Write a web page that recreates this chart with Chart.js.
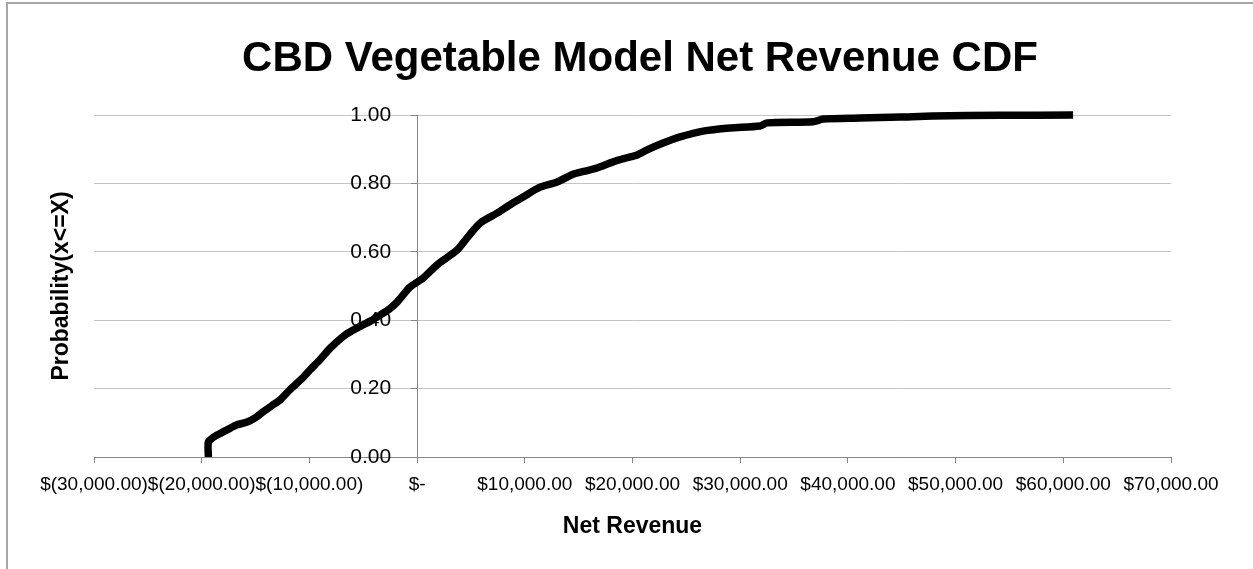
<!DOCTYPE html>
<html>
<head>
<meta charset="utf-8">
<title>CBD Vegetable Model Net Revenue CDF</title>
<script src="https://cdn.jsdelivr.net/npm/chart.js@4.4.1/dist/chart.umd.min.js"></script>
<style>
  html, body { margin: 0; padding: 0; background: #fff; overflow: hidden; }
  #wrap { position: relative; width: 1253px; height: 569px; overflow: hidden; }
  /* chart-area frame: only its top and left edges fall inside the page */
  #frame {
    position: absolute; left: 6px; top: 2px; width: 1300px; height: 620px;
    border-left: 2px solid #a6a6a6; border-top: 2px solid #a6a6a6;
    pointer-events: none;
  }
</style>
</head>
<body>
<div id="wrap">
  <canvas id="cdf" width="1253" height="569"></canvas>
  <div id="frame"></div>
</div>
<script>
// simulated net revenue ($) and cumulative probability
const netRevenue = [
  -19380, -19380, -18900, -18580, -17600, -16720, -15790, -15000, -14300, -13500,
  -12720, -11800, -10600, -9935, -9000, -8078, -6685, -5292, -4300, -3435,
  -2600, -1857, -650, 557, 1860, 3714, 4700, 5850, 7430, 8600,
  9840, 11420, 13000, 14480, 15600, 16710, 18200, 19500, 20430, 21360,
  22840, 24420, 26550, 29060, 31850, 32500, 36770, 37700, 41130, 44850,
  47910, 54130, 60910
];
const probability = [
  0.000, 0.044, 0.058, 0.064, 0.080, 0.094, 0.102, 0.115, 0.132, 0.150,
  0.167, 0.197, 0.232, 0.255, 0.285, 0.318, 0.357, 0.382, 0.398, 0.415,
  0.432, 0.453, 0.497, 0.523, 0.562, 0.605, 0.643, 0.684, 0.713, 0.737,
  0.760, 0.789, 0.804, 0.827, 0.836, 0.845, 0.863, 0.875, 0.883, 0.898,
  0.918, 0.936, 0.953, 0.962, 0.968, 0.977, 0.980, 0.988, 0.991, 0.994,
  0.997, 0.999, 1.000
];

const xTickLabels = [
  "$(30,000.00)", "$(20,000.00)", "$(10,000.00)", "$-", "$10,000.00", "$20,000.00",
  "$30,000.00", "$40,000.00", "$50,000.00", "$60,000.00", "$70,000.00"
];
const yTickLabels = ["0.00", "0.20", "0.40", "0.60", "0.80", "1.00"];

const FONT = "'Liberation Sans', Arial, sans-serif";
const AXIS_GREY = "#868686";
const GRID_GREY = "#c4c4c4";

new Chart(document.getElementById("cdf"), {
  type: "line",
  data: {
    datasets: [
      {
        data: netRevenue.map((x, i) => ({ x, y: probability[i] })),
        borderColor: "#000",
        borderWidth: 7.5,
        borderJoinStyle: "round",
        pointRadius: 0,
        tension: 0.25,
        clip: false,
        xAxisID: "x",
        yAxisID: "y",
      },
    ],
  },
  options: {
    responsive: false,
    animation: false,
    events: [],
    layout: { padding: { left: 27, right: 0, top: 0, bottom: 24.2 } },
    plugins: {
      legend: { display: false },
      tooltip: { enabled: false },
      title: {
        display: true,
        text: "CBD Vegetable Model Net Revenue CDF",
        color: "#000",
        font: { family: FONT, size: 42, weight: "bold" },
        padding: { top: 33.8, bottom: 30.8 },
      },
    },
    scales: {
      x: {
        type: "linear",
        position: "bottom",
        min: -30000,
        max: 70000,
        ticks: {
          stepSize: 10000,
          autoSkip: false,
          maxRotation: 0,
          minRotation: 0,
          padding: 10.5,
          color: "#000",
          font: { family: FONT, size: 19 },
          callback: (v, i) => xTickLabels[i],
        },
        grid: {
          display: true,
          drawOnChartArea: false,
          drawTicks: true,
          tickLength: 6,
          tickColor: AXIS_GREY,
        },
        border: { display: true, color: AXIS_GREY, width: 1 },
        title: {
          display: true,
          text: "Net Revenue",
          color: "#000",
          font: { family: FONT, size: 23, weight: "bold" },
          padding: { top: 6.4, bottom: 4 },
        },
      },
      // probability axis line, ticks and gridlines, sitting on the $0 line
      y: {
        type: "linear",
        position: { x: 0 },
        min: 0,
        max: 1,
        ticks: { stepSize: 0.2, display: false },
        grid: {
          color: GRID_GREY,
          lineWidth: 1,
          tickLength: 6,
          tickColor: AXIS_GREY,
        },
        border: { display: true, color: AXIS_GREY, width: 1 },
      },
      // probability tick labels, set a little left of the axis line
      yLabels: {
        type: "linear",
        axis: "y",
        position: { x: -2414 },
        min: 0,
        max: 1,
        ticks: {
          stepSize: 0.2,
          color: "#000",
          font: { family: FONT, size: 21 },
          callback: (v, i) => yTickLabels[i],
        },
        grid: { display: false, drawTicks: false },
        border: { display: false },
      },
      // left gutter carrying the probability title
      yTitle: {
        type: "linear",
        axis: "y",
        position: "left",
        ticks: { display: false },
        grid: { display: false, drawTicks: false },
        border: { display: false },
        title: {
          display: true,
          text: "Probability(x<=X)",
          color: "#000",
          font: { family: FONT, size: 23, weight: "bold" },
          padding: { top: 21.2, bottom: 18.2 },
        },
        afterFit: (s) => { s.width = 67; },
      },
      // right gutter
      yPad: {
        type: "linear",
        axis: "y",
        position: "right",
        ticks: { display: false },
        grid: { display: false, drawTicks: false },
        border: { display: false },
        afterFit: (s) => { s.width = 82; },
      },
    },
  },
});
</script>
</body>
</html>
